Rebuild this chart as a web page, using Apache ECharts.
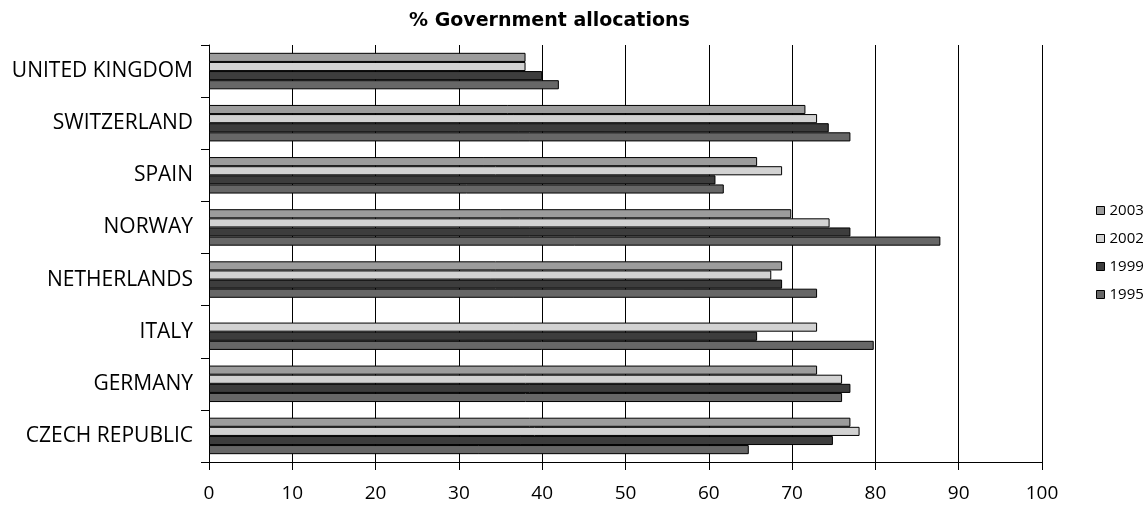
<!DOCTYPE html>
<html>
<head>
<meta charset="utf-8">
<script src="https://cdn.jsdelivr.net/npm/echarts@6/dist/echarts.min.js"></script>
<style>
  html, body { margin: 0; padding: 0; background: #fff; }
  #chart { width: 1147px; height: 508px; }
</style>
</head>
<body>
<div id="chart"></div>
<script>
// 数据
var countries = ['CZECH REPUBLIC', 'GERMANY', 'ITALY', 'NETHERLANDS', 'NORWAY', 'SPAIN', 'SWITZERLAND', 'UNITED KINGDOM'];
var v1995 = [64.8, 76, 79.8, 73, 87.8, 61.8, 77, 42];
var v1999 = [74.9, 77, 65.8, 68.8, 77, 60.8, 74.4, 40];
var v2002 = [78.1, 76, 73, 67.5, 74.5, 68.8, 73, 38];
var v2003 = [77, 73, null, 68.8, 69.9, 65.8, 71.6, 38];
var xTicks = [0, 10, 20, 30, 40, 50, 60, 70, 80, 90, 100];

(function () {
    var myChart = echarts.init(document.getElementById('chart'));
    var font = 'Open Sans';

    function bar(name, data, color) {
        return {
            name: name,
            type: 'bar',
            data: data,
            barGap: '0%',
            barCategoryGap: '30%',
            itemStyle: {
                color: color,
                borderColor: '#000',
                borderWidth: 1
            }
        };
    }

    var option = {
        animation: false,
        title: {
            text: '% Government allocations',
            left: 404,
            top: 7,
            textStyle: { fontFamily: 'DejaVu Sans', fontSize: 19, fontWeight: 'bold', color: '#000' }
        },
        legend: {
            orient: 'vertical',
            left: 1091,
            top: 198,
            itemGap: 13,
            itemWidth: 8,
            itemHeight: 8,
            icon: 'rect',
            data: ['2003', '2002', '1999', '1995'],
            textStyle: { fontFamily: font, fontSize: 15, color: '#000' },
            itemStyle: { borderColor: '#000', borderWidth: 1 }
        },
        grid: {
            left: 209,
            right: 105,
            top: 45,
            bottom: 46
        },
        xAxis: {
            type: 'value',
            min: xTicks[0],
            max: xTicks[xTicks.length - 1],
            interval: 10,
            axisLine: { show: true, lineStyle: { color: '#000', width: 1 } },
            axisTick: { show: true, length: 8, inside: false, lineStyle: { color: '#000' } },
            axisLabel: { margin: 22, fontFamily: font, fontSize: 19, color: '#000' },
            splitLine: { show: true, lineStyle: { color: '#000', width: 1 } }
        },
        yAxis: {
            type: 'category',
            data: countries,
            axisLine: { show: true, lineStyle: { color: '#000', width: 1 } },
            axisTick: { show: true, length: 8, lineStyle: { color: '#000' } },
            axisLabel: { margin: 16, fontFamily: font, fontSize: 21, color: '#000' }
        },
        series: [
            bar('2003', v2003, '#9c9c9c'),
            bar('2002', v2002, '#d2d2d2'),
            bar('1999', v1999, '#3d3d3d'),
            bar('1995', v1995, '#676767')
        ]
    };
    myChart.setOption(option);
})();
</script>
</body>
</html>
